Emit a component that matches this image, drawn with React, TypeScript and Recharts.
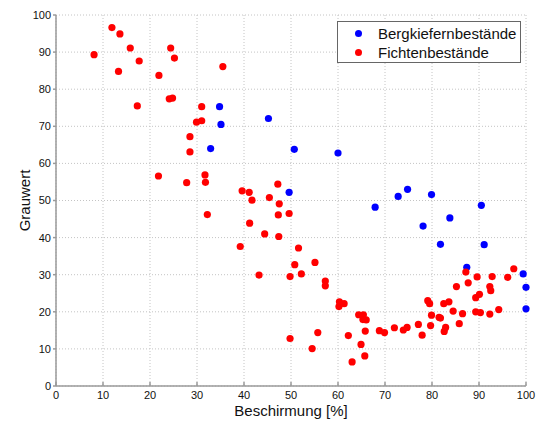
import React from 'react';
import { ScatterChart, Scatter, XAxis, YAxis, CartesianGrid } from 'recharts';

const seriesNames = ['Bergkiefernbestände', 'Fichtenbestände'];
const seriesColors = ['#0000ff', '#ff0000'];
const axisTicks = [0, 10, 20, 30, 40, 50, 60, 70, 80, 90, 100];

const bergX = [34.8, 35.1, 32.9, 45.2, 50.7, 49.6, 60.0, 67.9, 72.8, 74.8, 79.9, 90.5, 78.1, 83.8, 81.8, 91.1, 87.4, 99.4, 100, 100];
const bergY = [75.3, 70.5, 64.0, 72.1, 63.8, 52.2, 62.8, 48.2, 51.1, 53.0, 51.6, 48.7, 43.1, 45.3, 38.2, 38.1, 32.0, 30.2, 26.6, 20.8];

const fichteX = [8.1, 11.9, 13.6, 15.8, 17.7, 13.3, 24.4, 25.2, 21.9, 35.5, 24.1, 24.8, 17.3, 31.0, 29.9, 31.0, 28.5, 28.5, 21.8, 31.7, 31.8, 27.8, 39.6, 41.1, 41.7, 45.4, 47.2, 47.5, 32.2, 41.2, 39.2, 44.4, 47.4, 47.3, 49.6, 43.2, 49.8, 50.8, 51.6, 52.2, 55.1, 57.3, 57.3, 49.8, 55.7, 54.5, 60.3, 61.3, 60.2, 62.2, 63.0, 64.4, 65.4, 65.3, 66.0, 65.8, 64.9, 65.7, 68.8, 69.9, 72.0, 73.9, 74.7, 77.1, 77.9, 79.7, 79.9, 79.1, 79.5, 81.5, 81.8, 82.5, 83.6, 84.5, 82.9, 82.6, 85.8, 85.2, 86.5, 87.2, 87.7, 89.6, 89.3, 90.1, 89.3, 90.3, 92.3, 92.5, 92.8, 92.3, 94.2, 96.1, 97.4];
const fichteY = [89.3, 96.6, 94.9, 91.1, 87.6, 84.8, 91.1, 88.4, 83.7, 86.1, 77.4, 77.6, 75.5, 75.3, 71.1, 71.5, 67.2, 63.1, 56.6, 56.9, 54.9, 54.8, 52.6, 52.2, 50.1, 50.8, 54.4, 49.1, 46.2, 43.9, 37.6, 41.0, 40.3, 46.1, 46.5, 29.9, 29.5, 32.7, 37.2, 30.2, 33.3, 28.3, 27.0, 12.8, 14.4, 10.1, 22.7, 22.2, 21.4, 13.6, 6.5, 19.2, 19.2, 17.9, 17.8, 14.8, 11.2, 8.1, 14.9, 14.4, 15.7, 15.1, 15.8, 16.6, 13.7, 16.3, 19.1, 23.0, 22.2, 18.5, 18.3, 22.2, 22.7, 20.2, 15.8, 14.7, 16.8, 26.8, 19.5, 30.7, 27.8, 29.4, 23.8, 24.7, 20.0, 19.8, 26.8, 25.7, 29.5, 19.4, 20.6, 29.3, 31.6];

const bergData = bergX.map((x, i) => ({ x, y: bergY[i] }));
const fichteData = fichteX.map((x, i) => ({ x, y: fichteY[i] }));

const FONT = '"Liberation Sans", Arial, Helvetica, sans-serif';
const AXIS_COLOR = '#9a9a9a';

const makeDot = (color: string) => (props: any) => (
  <circle cx={props.cx} cy={props.cy} r={3.6} fill={color} stroke="none" />
);

export default function App() {
  return (
    <div style={{ position: 'absolute', left: 0, top: 0, width: 538, height: 421, background: '#fff', fontFamily: FONT }}>
      <ScatterChart width={538} height={421} margin={{ top: 15, right: 12, left: 0, bottom: 0 }}>
        <CartesianGrid stroke="#c4c4c4" strokeDasharray="1 2" />
        <XAxis
          type="number"
          dataKey="x"
          domain={[0, 100]}
          ticks={axisTicks}
          height={35}
          interval={0}
          stroke={AXIS_COLOR}
          strokeWidth={1.5}
          tickSize={-4}
          tickMargin={9}
          tick={{ fill: '#111', fontSize: 11, fontFamily: FONT }}
          label={{
            content: (p: any) => {
              const vb = p.viewBox || { x: 56, y: 386, width: 470 };
              return (
                <text x={vb.x + vb.width / 2} y={416} textAnchor="middle" fontSize={15} fontFamily={FONT} fill="#111">
                  Beschirmung [%]
                </text>
              );
            },
          }}
        />
        <YAxis
          type="number"
          dataKey="y"
          domain={[0, 100]}
          ticks={axisTicks}
          width={56}
          interval={0}
          stroke={AXIS_COLOR}
          strokeWidth={1.5}
          tickSize={3}
          tickMargin={2}
          tick={{ fill: '#111', fontSize: 11, fontFamily: FONT }}
          label={{
            content: (p: any) => {
              const vb = p.viewBox || { x: 0, y: 15, height: 371 };
              const cy = vb.y + vb.height / 2;
              return (
                <text x={24} y={cy} transform={`rotate(-90 24 ${cy})`} textAnchor="middle" dominantBaseline="central" fontSize={15} fontFamily={FONT} fill="#111">
                  Grauwert
                </text>
              );
            },
          }}
        />
        <Scatter name={seriesNames[0]} data={bergData} fill={seriesColors[0]} shape={makeDot(seriesColors[0])} isAnimationActive={false} />
        <Scatter name={seriesNames[1]} data={fichteData} fill={seriesColors[1]} shape={makeDot(seriesColors[1])} isAnimationActive={false} />
      </ScatterChart>
      <div
        style={{
          position: 'absolute',
          left: 337,
          top: 21,
          width: 182,
          height: 40,
          background: '#fff',
          border: '1px solid #666',
          fontFamily: FONT,
          fontSize: 15,
          color: '#111',
        }}
      >
        {seriesNames.map((name, i) => (
          <div key={name} style={{ position: 'absolute', left: 0, top: i === 0 ? 2 : 21, height: 19, width: 182, lineHeight: '19px' }}>
            <span
              style={{
                position: 'absolute',
                left: 17,
                top: 6,
                width: 7,
                height: 7,
                borderRadius: '50%',
                background: seriesColors[i],
              }}
            />
            <span style={{ position: 'absolute', left: 40, top: 0, whiteSpace: 'nowrap' }}>{name}</span>
          </div>
        ))}
      </div>
    </div>
  );
}
